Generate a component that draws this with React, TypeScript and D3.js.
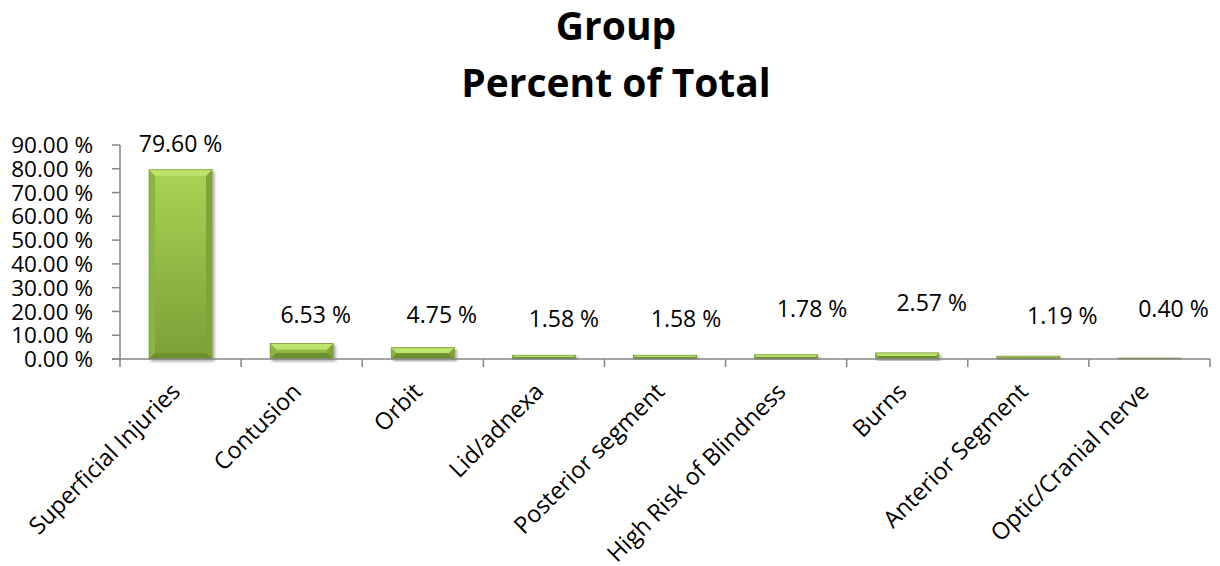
import React from "react";
import * as d3 from "d3";

const categories = [
  "Superficial Injuries",
  "Contusion",
  "Orbit",
  "Lid/adnexa",
  "Posterior segment",
  "High Risk of Blindness",
  "Burns",
  "Anterior Segment",
  "Optic/Cranial nerve",
];
const values = [79.6, 6.53, 4.75, 1.58, 1.58, 1.78, 2.57, 1.19, 0.4];
const yTicks = [0, 10, 20, 30, 40, 50, 60, 70, 80, 90];
const titleLines = ["Group", "Percent of Total"];
// manually dragged data-label positions (offset from bar centre in px, baseline y in px)
const labelDx = [0, 14, 19, 20, 21, 26, 24.5, 34, 24];
const labelBaseline = [152, 323, 323, 327, 327, 317, 311, 324, 317];

const W = 1220;
const H = 566;
const left = 120;
const right = 1210;
const top = 145;
const bottom = 359;
const font = "'Open Sans', 'Liberation Sans', sans-serif";
const axisColor = "#868686";

export default function App() {
  const x = d3
    .scaleBand<string>()
    .domain(categories)
    .range([left, right])
    .paddingInner(0.48)
    .paddingOuter(0.24);
  const y = d3.scaleLinear().domain([0, 90]).range([bottom, top]);
  const fmt = (v: number) => `${v.toFixed(2)} %`;
  const step = x.step();

  return (
    <svg
      width={W}
      height={H}
      style={{ position: "absolute", left: 0, top: 0, background: "#fff" }}
    >
      <defs>
        <linearGradient id="body" x1="0" y1="0" x2="0" y2="1">
          <stop offset="0" stopColor="#a9d454" />
          <stop offset="1" stopColor="#7b9f36" />
        </linearGradient>
        <filter id="shadow" x="-20%" y="-20%" width="140%" height="140%">
          <feGaussianBlur in="SourceAlpha" stdDeviation="1.5" />
          <feOffset dx="1.5" dy="1.5" result="b" />
          <feComponentTransfer>
            <feFuncA type="linear" slope="0.35" />
          </feComponentTransfer>
          <feMerge>
            <feMergeNode />
            <feMergeNode in="SourceGraphic" />
          </feMerge>
        </filter>
      </defs>

      {/* title */}
      <text
        x={616}
        y={40}
        textAnchor="middle"
        fontFamily={font}
        fontWeight="bold"
        fontSize={39}
        fill="#000"
      >
        {titleLines[0]}
      </text>
      <text
        x={616}
        y={97}
        textAnchor="middle"
        fontFamily={font}
        fontWeight="bold"
        fontSize={39}
        fill="#000"
      >
        {titleLines[1]}
      </text>

      {/* bars */}
      {categories.map((c, i) => {
        const bx = x(c)!;
        const bw = x.bandwidth();
        const by = y(values[i]);
        const bh = bottom - by;
        const b = Math.min(6, bh / 2, bw / 2);
        return (
          <g key={c} filter="url(#shadow)">
            <rect x={bx} y={by} width={bw} height={bh} fill="url(#body)" />
            <polygon
              points={`${bx},${by} ${bx + b},${by + b} ${bx + b},${bottom - b} ${bx},${bottom}`}
              fill="#8db443"
            />
            <polygon
              points={`${bx + bw},${by} ${bx + bw - b},${by + b} ${bx + bw - b},${bottom - b} ${bx + bw},${bottom}`}
              fill="#7fa23a"
            />
            <polygon
              points={`${bx},${by} ${bx + bw},${by} ${bx + bw - b},${by + b} ${bx + b},${by + b}`}
              fill="#bde46c"
            />
            <polygon
              points={`${bx},${bottom} ${bx + bw},${bottom} ${bx + bw - b},${bottom - b} ${bx + b},${bottom - b}`}
              fill="#6c8f2e"
            />
            <rect
              x={bx}
              y={by}
              width={bw}
              height={bh}
              fill="none"
              stroke="#7c9c3c"
              strokeWidth={0.8}
            />
          </g>
        );
      })}

      {/* x axis */}
      <line x1={112} x2={right} y1={bottom} y2={bottom} stroke={axisColor} strokeWidth={1.5} />
      {d3.range(categories.length + 1).map((k) => (
        <line
          key={k}
          x1={left + k * step}
          x2={left + k * step}
          y1={bottom}
          y2={bottom + 8}
          stroke={axisColor}
          strokeWidth={1.5}
        />
      ))}

      {/* y axis */}
      <line x1={left} x2={left} y1={top} y2={bottom} stroke={axisColor} strokeWidth={1.5} />
      {yTicks.map((t) => (
        <g key={t}>
          <line x1={112} x2={left} y1={y(t)} y2={y(t)} stroke={axisColor} strokeWidth={1.5} />
          <text
            x={93}
            y={y(t)}
            dy="0.36em"
            textAnchor="end"
            fontFamily={font}
            fontSize={22.5}
            fill="#000"
          >
            {fmt(t)}
          </text>
        </g>
      ))}

      {/* category labels */}
      {categories.map((c) => {
        const cx = x(c)! + x.bandwidth() / 2;
        return (
          <text
            key={c}
            transform={`translate(${cx + 1},${bottom + 34}) rotate(-45)`}
            textAnchor="end"
            fontFamily={font}
            fontSize={23.5}
            fill="#000"
          >
            {c}
          </text>
        );
      })}

      {/* data labels */}
      {categories.map((c, i) => (
        <text
          key={c}
          x={x(c)! + x.bandwidth() / 2 + labelDx[i]}
          y={labelBaseline[i]}
          textAnchor="middle"
          fontFamily={font}
          fontSize={23}
          fill="#000"
        >
          {fmt(values[i])}
        </text>
      ))}
    </svg>
  );
}
